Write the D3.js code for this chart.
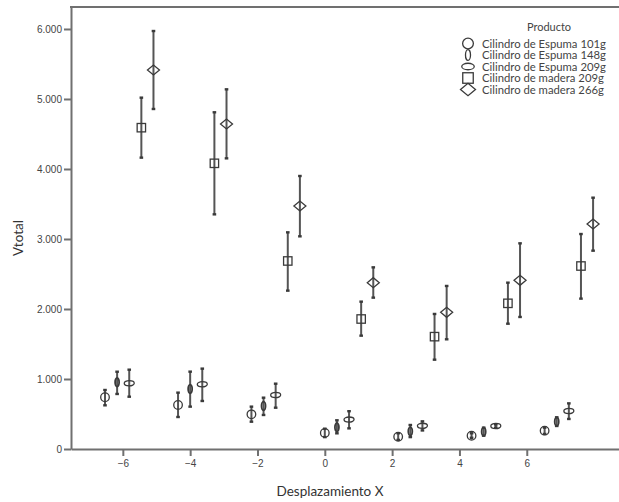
<!DOCTYPE html>
<html>
<head>
<meta charset="utf-8">
<script src="https://cdn.jsdelivr.net/npm/d3@7"></script>
<style>
  body { margin: 0; background: #fff; }
  svg { display: block; font-family: Lato, "Open Sans", sans-serif; }
</style>
</head>
<body>
<div id="chart"></div>
<script>
const width = 619;
const height = 502;

// Desplazamiento X of each cluster (first product) and the products
const xGroups = [-6.53, -4.36, -2.18, 0, 2.18, 4.36, 6.53];
const productos = [
  "Cilindro de Espuma 101g",
  "Cilindro de Espuma 148g",
  "Cilindro de Espuma 209g",
  "Cilindro de madera 209g",
  "Cilindro de madera 266g"
];
const yTicks = [0, 1000, 2000, 3000, 4000, 5000, 6000];
const xTicks = [-6, -4, -2, 0, 2, 4, 6];

// Vtotal: mean and error-bar limits, one array per product
const espuma101Mean = [739, 629, 495, 230, 176, 190, 262];
const espuma101Lo = [624, 457, 390, 170, 130, 160, 215];
const espuma101Hi = [843, 805, 605, 290, 225, 225, 305];

const espuma148Mean = [953, 857, 614, 310, 252, 248, 390];
const espuma148Lo = [786, 605, 486, 224, 170, 190, 329];
const espuma148Hi = [1104, 1105, 733, 410, 343, 305, 453];

const espuma209Mean = [939, 924, 771, 420, 331, 329, 543];
const espuma209Lo = [747, 686, 590, 295, 265, 305, 429];
const espuma209Hi = [1133, 1148, 933, 540, 395, 350, 652];

const madera209Mean = [4590, 4081, 2686, 1857, 1605, 2081, 2614];
const madera209Lo = [4162, 3352, 2262, 1619, 1276, 1790, 2148];
const madera209Hi = [5019, 4810, 3095, 2105, 1929, 2376, 3071];

const madera266Mean = [5414, 4643, 3471, 2376, 1952, 2410, 3214];
const madera266Lo = [4857, 4152, 3038, 2162, 1567, 1886, 2833];
const madera266Hi = [5971, 5138, 3900, 2595, 2329, 2938, 3590];

const means = [espuma101Mean, espuma148Mean, espuma209Mean, madera209Mean, madera266Mean];
const lows = [espuma101Lo, espuma148Lo, espuma209Lo, madera209Lo, madera266Lo];
const highs = [espuma101Hi, espuma148Hi, espuma209Hi, madera209Hi, madera266Hi];

// cluster dodge in x units, per product
const dodge = [0, 0.36, 0.72, 1.08, 1.44];

const rows = [];
productos.forEach((p, i) => {
  xGroups.forEach((gx, j) => {
    rows.push({ p: i, x: gx + dodge[i], m: means[i][j], lo: lows[i][j], hi: highs[i][j] });
  });
});

const plotL = 71, plotR = 619, plotT = 7, plotB = 449;
const x = d3.scaleLinear().domain([-7.54, 8.74]).range([plotL, plotR]);
const y = d3.scaleLinear().domain([0, 6314]).range([plotB, plotT]);

const es = d3.formatLocale({ decimal: ",", thousands: ".", grouping: [3], currency: ["", "€"] });
const fmt = es.format(",");

const ink = "#3a3a3a";
const barCol = "#555";
const axisCol = "#707070";
const textCol = "#444";

const svg = d3.select("#chart").append("svg")
  .attr("width", width)
  .attr("height", height);

// marker shapes
const marker = (sel, i, s) => {
  if (i === 0) {
    sel.append("circle").attr("r", 4.3 * s);
  } else if (i === 1) {
    sel.append("ellipse").attr("rx", 2 * s).attr("ry", 4.3 * s);
  } else if (i === 2) {
    sel.append("ellipse").attr("rx", 5 * s).attr("ry", 2.6 * s);
  } else if (i === 3) {
    sel.append("rect").attr("x", -4.2 * s).attr("y", -4.2 * s).attr("width", 8.4 * s).attr("height", 8.4 * s);
  } else {
    sel.append("path").attr("d", `M${-6 * s},0L0,${-5 * s}L${6 * s},0L0,${5 * s}Z`);
  }
};

// axes
const yAxis = svg.append("g")
  .attr("transform", `translate(${plotL},0)`)
  .call(d3.axisLeft(y).tickValues(yTicks).tickFormat(fmt).tickSize(7).tickSizeOuter(0).tickPadding(2));

const xAxis = svg.append("g")
  .attr("transform", `translate(0,${plotB})`)
  .call(d3.axisBottom(x).tickValues(xTicks).tickSize(7).tickSizeOuter(0).tickPadding(4));

[yAxis, xAxis].forEach((g) => {
  g.select(".domain").attr("stroke", axisCol).attr("stroke-width", 2);
  g.selectAll(".tick line").attr("stroke", axisCol).attr("stroke-width", 2);
  g.selectAll(".tick text").attr("fill", textCol).style("font-size", "10px");
});

svg.append("line")
  .attr("x1", plotL - 1).attr("x2", plotR)
  .attr("y1", plotT).attr("y2", plotT)
  .attr("stroke", axisCol).attr("stroke-width", 2);

svg.append("text")
  .attr("x", 330)
  .attr("y", 496)
  .attr("text-anchor", "middle")
  .attr("fill", "#333")
  .style("font-size", "13.5px")
  .text("Desplazamiento X");

svg.append("text")
  .attr("transform", `translate(23,${(plotT + plotB) / 2 + 10}) rotate(-90)`)
  .attr("text-anchor", "middle")
  .attr("fill", "#333")
  .style("font-size", "13.5px")
  .text("Vtotal");

// error bars
const bars = svg.append("g").selectAll("g")
  .data(rows)
  .join("g")
  .attr("transform", (d) => `translate(${x(d.x)},0)`);

bars.append("line")
  .attr("y1", (d) => y(d.lo))
  .attr("y2", (d) => y(d.hi))
  .attr("stroke", barCol)
  .attr("stroke-width", 2);

bars.selectAll("line.cap")
  .data((d) => [d.lo, d.hi])
  .join("line")
  .attr("class", "cap")
  .attr("x1", -1.8).attr("x2", 1.8)
  .attr("y1", (v) => y(v)).attr("y2", (v) => y(v))
  .attr("stroke", ink)
  .attr("stroke-width", 2.4);

bars.append("g")
  .attr("transform", (d) => `translate(0,${y(d.m)})`)
  .attr("fill", "none")
  .attr("stroke", ink)
  .attr("stroke-width", (d) => (d.p === 1 ? 1.8 : 1.3))
  .each(function (d) { marker(d3.select(this), d.p, 1); });

// legend
const legend = svg.append("g").attr("transform", "translate(468,0)");
legend.append("text")
  .attr("x", 81).attr("y", 31)
  .attr("text-anchor", "middle")
  .attr("fill", textCol)
  .style("font-size", "11px")
  .text("Producto");

const item = legend.selectAll("g.item")
  .data(productos)
  .join("g")
  .attr("class", "item")
  .attr("transform", (d, i) => `translate(0,${43.5 + i * 11.5})`);

item.append("g")
  .attr("fill", "none")
  .attr("stroke", ink)
  .attr("stroke-width", 1.3)
  .each(function (d, i) { marker(d3.select(this), i, 1.25); });

item.append("text")
  .attr("x", 14).attr("y", 4)
  .attr("fill", textCol)
  .style("font-size", "11.3px")
  .text((d) => d);
</script>
</body>
</html>
